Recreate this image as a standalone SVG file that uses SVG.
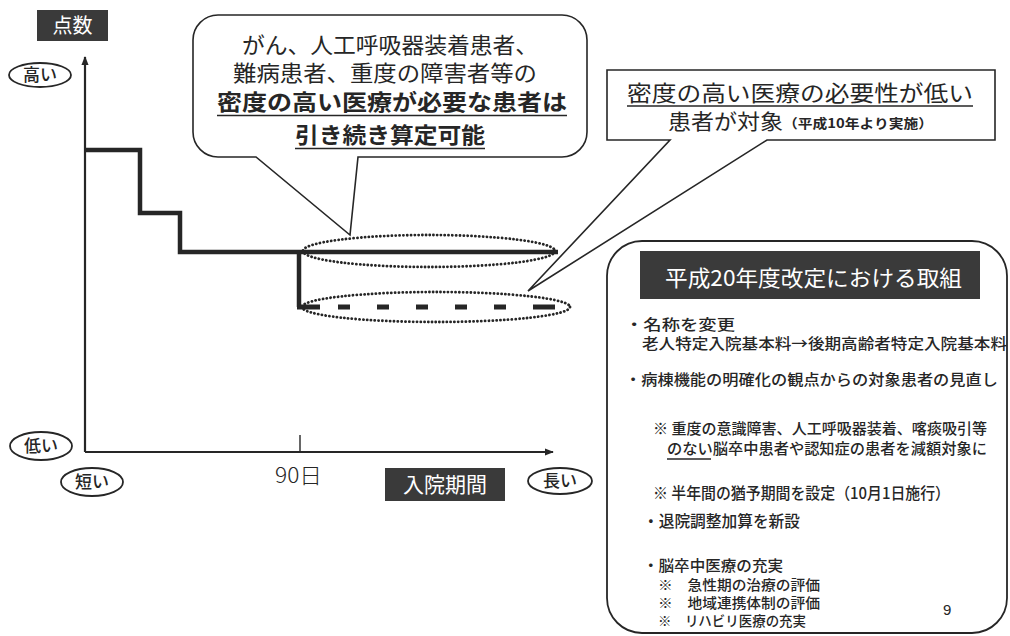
<svg xmlns="http://www.w3.org/2000/svg" width="1010" height="636" viewBox="0 0 1010 636">
  <defs>
    <style>
      .jp { font-family: "Noto Sans CJK JP", "Noto Sans", sans-serif; fill: #262626; }
      .wt { font-family: "Noto Sans CJK JP", "Noto Sans", sans-serif; fill: #ffffff; }
      .ln { stroke: #262626; fill: none; }
      .oval { fill: #ffffff; stroke: #262626; stroke-width: 1.8; }
      .lbl { font-size: 17px; font-weight: 500; text-anchor: middle; }
      .dot { fill: none; stroke: #262626; stroke-width: 2.8; stroke-dasharray: 0.1 3.7; stroke-linecap: round; }
      .dark { fill: #3a3a3a; }
      .ul { stroke: #262626; stroke-width: 1.6; }
    </style>
    <marker id="arr" viewBox="0 0 10 10" refX="9" refY="5" markerWidth="9" markerHeight="9" markerUnits="userSpaceOnUse" orient="auto">
      <path d="M0,1 L10,5 L0,9 Z" fill="#262626"/>
    </marker>
  </defs>
  <rect width="1010" height="636" fill="#ffffff"/>

  <g id="connectors">
    <line class="ln" x1="85" y1="452" x2="85" y2="57" stroke-width="2.2" marker-end="url(#arr)"/>
    <line class="ln" x1="85" y1="452" x2="553" y2="452" stroke-width="2.2" marker-end="url(#arr)"/>
    <line class="ln" x1="300" y1="435" x2="300" y2="452" stroke-width="1.4"/>
    <path class="ln" d="M85,150 H140 V213 H180 V252 H558" stroke-width="4.5"/>
    <path class="ln" d="M299,252 V307" stroke-width="4.5"/>
    <line class="ln" x1="297" y1="307" x2="556" y2="307" stroke-width="5" stroke-dasharray="23 18 12 27 12 27 12 27 12 27 12 27 22"/>
  </g>

  <g id="axis-y-label">
    <rect class="dark" x="37" y="10" width="71" height="31"/>
    <text class="wt" x="72.5" y="33" font-size="20" text-anchor="middle">点数</text>
  </g>
  <g id="high">
    <ellipse class="oval" cx="40" cy="75" rx="31" ry="12"/>
    <text class="jp lbl" x="40" y="81">高い</text>
  </g>
  <g id="low">
    <ellipse class="oval" cx="41" cy="446" rx="31" ry="14"/>
    <text class="jp lbl" x="41" y="452">低い</text>
  </g>
  <g id="short">
    <ellipse class="oval" cx="92" cy="482" rx="31" ry="14"/>
    <text class="jp lbl" x="92" y="488">短い</text>
  </g>
  <g id="long">
    <ellipse class="oval" cx="560" cy="481" rx="32" ry="13"/>
    <text class="jp lbl" x="560" y="487">長い</text>
  </g>
  <g id="day90">
    <text class="jp" x="275" y="483" font-size="21" font-weight="300" textLength="47" lengthAdjust="spacingAndGlyphs">90日</text>
  </g>
  <g id="axis-x-label">
    <rect class="dark" x="385" y="468" width="120" height="33"/>
    <text class="wt" x="445" y="492" font-size="21" text-anchor="middle">入院期間</text>
  </g>

  <g id="oval-upper">
    <ellipse class="dot" cx="429" cy="251" rx="126" ry="16"/>
  </g>
  <g id="oval-lower">
    <ellipse class="dot" cx="436" cy="307" rx="134" ry="15"/>
  </g>

  <g id="callout-high">
    <path d="M218,15 H562 A25,25 0 0 1 587,40 V132 A25,25 0 0 1 562,157 H358 L350,235 L256,157 H218 A25,25 0 0 1 193,132 V40 A25,25 0 0 1 218,15 Z" fill="#ffffff" stroke="#262626" stroke-width="1.6"/>
    <text class="jp" x="242" y="53" font-size="22" textLength="296" lengthAdjust="spacingAndGlyphs">がん、人工呼吸器装着患者、</text>
    <text class="jp" x="233" y="81" font-size="22" textLength="304" lengthAdjust="spacingAndGlyphs">難病患者、重度の障害者等の</text>
    <text class="jp" x="217" y="110" font-size="22" font-weight="bold" textLength="350" lengthAdjust="spacingAndGlyphs">密度の高い医療が必要な患者は</text>
    <text class="jp" x="295" y="143" font-size="22" font-weight="bold" textLength="190" lengthAdjust="spacingAndGlyphs">引き続き算定可能</text>
    <line class="ul" x1="217" y1="115.5" x2="567" y2="115.5"/>
    <line class="ul" x1="295" y1="148.5" x2="485" y2="148.5"/>
  </g>

  <g id="callout-low">
    <path d="M607,70 H995 V140 H767 L528,291 L670,140 H607 Z" fill="#ffffff" stroke="#262626" stroke-width="1.6"/>
    <text class="jp" x="627" y="101" font-size="22" textLength="346" lengthAdjust="spacingAndGlyphs">密度の高い医療の必要性が低い</text>
    <line class="ul" x1="627" y1="106" x2="973" y2="106"/>
    <text class="jp" x="668" y="129" font-size="21" textLength="115" lengthAdjust="spacingAndGlyphs">患者が対象</text>
    <text class="jp" x="783" y="128" font-size="13" font-weight="bold" textLength="150" lengthAdjust="spacingAndGlyphs">（平成10年より実施）</text>
  </g>

  <g id="revision-box">
    <rect x="607" y="241" width="400" height="392" rx="35" ry="35" fill="#ffffff" stroke="#262626" stroke-width="1.8"/>
    <rect class="dark" x="640" y="251" width="340" height="48"/>
    <text class="wt" x="665" y="286" font-size="22" textLength="297" lengthAdjust="spacingAndGlyphs">平成20年度改定における取組</text>
    <g class="jp" font-size="15" font-weight="500">
      <text x="625" y="330" textLength="110" lengthAdjust="spacingAndGlyphs">・名称を変更</text>
      <text x="642" y="349" textLength="365" lengthAdjust="spacingAndGlyphs">老人特定入院基本料→後期高齢者特定入院基本料</text>
      <text x="625" y="385" textLength="373" lengthAdjust="spacingAndGlyphs">・病棟機能の明確化の観点からの対象患者の見直し</text>
      <text x="653" y="434" textLength="334" lengthAdjust="spacingAndGlyphs">※ 重度の意識障害、人工呼吸器装着、喀痰吸引等</text>
      <text x="667" y="454" textLength="320" lengthAdjust="spacingAndGlyphs">のない脳卒中患者や認知症の患者を減額対象に</text>
      <text x="653" y="499" font-size="16" textLength="297" lengthAdjust="spacingAndGlyphs">※ 半年間の猶予期間を設定（10月1日施行）</text>
      <text x="643" y="527" font-size="16" textLength="157" lengthAdjust="spacingAndGlyphs">・退院調整加算を新設</text>
      <text x="643" y="571" font-size="15" textLength="140" lengthAdjust="spacingAndGlyphs">・脳卒中医療の充実</text>
      <text x="658" y="590" font-size="14" textLength="162" lengthAdjust="spacingAndGlyphs">※　急性期の治療の評価</text>
      <text x="658" y="608" font-size="14" textLength="162" lengthAdjust="spacingAndGlyphs">※　地域連携体制の評価</text>
      <text x="658" y="626" font-size="14" textLength="148" lengthAdjust="spacingAndGlyphs">※　リハビリ医療の充実</text>
      <text x="943" y="615" font-family="Liberation Sans, sans-serif" font-size="15" font-weight="normal">9</text>
    </g>
    <line class="ul" x1="667" y1="459" x2="711" y2="459"/>
  </g>
</svg>
